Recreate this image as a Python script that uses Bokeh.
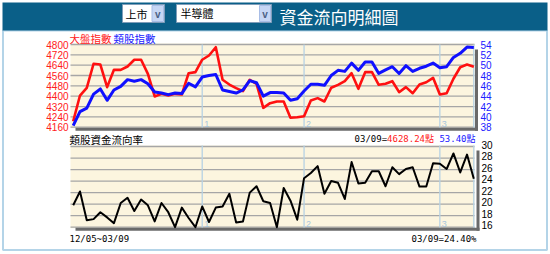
from bokeh.plotting import figure
from bokeh.models import Range1d
from bokeh.core.properties import value
from bokeh.embed import file_html
from bokeh.resources import INLINE

# ---------------- data ----------------
first_date = "12/05"
last_date = "03/09"
market = [4206, 4405, 4465, 4651, 4645, 4470, 4604, 4604, 4630, 4682,
          4682, 4573, 4398, 4418, 4405, 4418, 4413, 4578, 4586, 4682,
          4715, 4779, 4527, 4490, 4462, 4439, 4527, 4496, 4310, 4346,
          4359, 4359, 4233, 4237, 4245, 4367, 4385, 4359, 4465, 4488,
          4516, 4578, 4457, 4586, 4586, 4488, 4496, 4516, 4431, 4470,
          4423, 4490, 4508, 4542, 4413, 4423, 4535, 4624, 4645, 4628.24]
sector = [38.3, 41.0, 41.7, 44.4, 45.4, 43.2, 45.2, 45.9, 47.2, 46.9,
          47.2, 46.4, 44.8, 44.6, 44.3, 44.6, 44.5, 46.5, 45.8, 47.7,
          48.0, 48.2, 45.2, 44.9, 44.6, 45.2, 47.0, 46.6, 44.0, 44.7,
          44.7, 44.6, 43.2, 43.5, 45.0, 46.3, 46.3, 46.1, 48.0, 49.0,
          48.8, 50.4, 49.0, 50.6, 50.6, 48.4, 49.1, 49.7, 48.4, 49.9,
          48.8, 49.4, 49.8, 50.4, 49.5, 49.7, 51.5, 52.3, 53.5, 53.40]
flow = [19.8, 22.2, 17.2, 17.4, 18.6, 17.7, 16.7, 20.2, 21.1, 18.8,
        20.8, 19.8, 17.0, 20.2, 18.6, 16.0, 19.4, 17.6, 16.0, 19.6,
        16.9, 19.4, 19.6, 21.8, 16.8, 17.0, 22.0, 23.1, 20.5, 20.2,
        16.0, 22.8, 20.6, 17.3, 24.5, 25.4, 26.6, 21.8, 24.0, 23.7,
        20.9, 27.3, 23.6, 23.7, 25.7, 25.7, 23.1, 26.4, 25.2, 26.1,
        26.4, 23.05, 23.05, 27.1, 27.0, 26.1, 28.8, 25.5, 28.6, 24.40]
market_ticks = [4160, 4240, 4320, 4400, 4480, 4560, 4640, 4720, 4800]
sector_ticks = [38, 40, 42, 44, 46, 48, 50, 52, 54]
flow_ticks = [16, 18, 20, 22, 24, 26, 28, 30]
month_idx = [19, 34, 54]
month_labels = ["1", "2", "3"]

idx = list(range(len(market)))

# ---------------- layout constants (pixels) ----------------
W, H = 550, 254
X0, DX = 72.7, 6.79          # pixel of first point, spacing
PL, PR = 70, 474             # plot area left/right
UT, UB = 44, 126.7           # upper chart top/bottom
LT, LB = 146, 226.7          # lower chart top/bottom

CJK = value("Noto Sans CJK TC")
SANS = value("Liberation Sans")
MONO = value("'DejaVu Sans Mono', 'Noto Sans CJK TC'")

p = figure(width=W, height=H, x_range=Range1d(0, W), y_range=Range1d(H, 0),
           output_backend="svg", toolbar_location=None, min_border=0,
           x_axis_location=None, y_axis_location=None)
p.grid.visible = False
p.outline_line_color = None
p.background_fill_color = "white"
p.border_fill_color = "white"


def vrange(v_top, s_top, v_bot, s_bot):
    k = (v_top - v_bot) / (s_bot - s_top)
    return Range1d(start=v_top - (H - s_top) * k, end=v_top + s_top * k)


p.extra_x_ranges = {"idx": Range1d(-X0 / DX, (W - X0) / DX)}
p.extra_y_ranges = {
    "mkt": vrange(max(market_ticks), UT, min(market_ticks), UB),
    "sec": vrange(max(sector_ticks), UT, min(sector_ticks), UB),
    "flow": vrange(max(flow_ticks), LT, min(flow_ticks), LB),
}

# ---------------- frame / header ----------------
p.quad(left=2.5, right=546.5, top=30, bottom=249.5, fill_color=None,
       line_color="#b4d4e8", line_width=2)
p.quad(left=2, right=547, top=2, bottom=30, fill_color="#0a5f88", line_color=None)
# dropdowns
p.quad(left=[122, 176], right=[164, 271], top=[4, 4], bottom=[22, 22],
       fill_color="white", line_color="#7f9db9", line_width=1)
p.quad(left=[151.5, 259], right=[163, 270], top=[5, 5], bottom=[21, 21],
       fill_color="#c6d6f4", line_color="#a8bde6", line_width=1)
p.text(x=[157.2, 264.5], y=[13.5, 13.5], text=["v", "v"], text_font=SANS,
       text_font_size="10px", text_font_style="bold", text_color="#4d6185",
       text_align="center", text_baseline="middle")
p.text(x=[125, 180], y=[13, 12], text=["上市", "半導體"], text_font=CJK,
       text_font_size="11px", text_color="black", text_baseline="middle")
p.text(x=[279], y=[15.5], text=["資金流向明細圖"], text_font=CJK,
       text_font_size="17px", text_color="white", text_baseline="middle")

# ---------------- upper chart ----------------
cream = "#fcf5df"
grid = "#a6a6a6"
p.quad(left=PL, right=PR, top=UT - 1, bottom=UB + 1, fill_color=cream, line_color=None)
p.segment(x0=PL, x1=PR, y0=market_ticks, y1=market_ticks, y_range_name="mkt",
          line_color=grid, line_width=1.3)
p.segment(x0=month_idx + [idx[-1]], x1=month_idx + [idx[-1]], y0=UT, y1=UB + 1,
          x_range_name="idx", line_color="#b6d2e4", line_width=1.3)
p.text(x=month_idx, y=UB, text=month_labels, x_range_name="idx", x_offset=2,
       text_font=SANS, text_font_size="9px", text_color="#a8c6dc",
       text_baseline="bottom")
p.segment(x0=[476, 75], x1=[476, 477.5], y0=[49, 128.7], y1=[130.2, 128.7],
          line_color="#6a6a6a", line_width=3)
p.line(idx, market, x_range_name="idx", y_range_name="mkt", line_color="#ff1010",
       line_width=2.6, line_join="round")
p.line(idx, sector, x_range_name="idx", y_range_name="sec", line_color="#1010ff",
       line_width=3, line_join="round")
p.text(x=68, y=market_ticks, text=[str(t) for t in market_ticks], y_range_name="mkt",
       text_font=SANS, text_font_size="10px", text_color="#ff2020",
       text_align="right", text_baseline="middle")
p.text(x=480, y=sector_ticks, text=[str(t) for t in sector_ticks], y_range_name="sec",
       text_font=SANS, text_font_size="10px", text_color="#2020ff",
       text_align="left", text_baseline="middle")
p.text(x=[69, 113], y=[38, 38], text=["大盤指數", "類股指數"], text_font=CJK,
       text_font_size="10.5px", text_color=["#ff2020", "#2020ff"],
       text_baseline="middle")

# ---------------- lower chart ----------------
p.quad(left=PL, right=PR, top=LT - 1, bottom=LB + 1, fill_color=cream, line_color=None)
p.segment(x0=PL, x1=PR, y0=flow_ticks, y1=flow_ticks, y_range_name="flow",
          line_color=grid, line_width=1.3)
p.segment(x0=month_idx + [idx[-1]], x1=month_idx + [idx[-1]], y0=LT - 1, y1=LB + 1,
          x_range_name="idx", line_color="#b6d2e4", line_width=1.3)
p.text(x=month_idx, y=LB, text=month_labels, x_range_name="idx", x_offset=2,
       text_font=SANS, text_font_size="9px", text_color="#a8c6dc",
       text_baseline="bottom")
p.segment(x0=[477.5, 75], x1=[477.5, 479], y0=[150, 228.7], y1=[230.2, 228.7],
          line_color="#6a6a6a", line_width=3)
p.line(idx, flow, x_range_name="idx", y_range_name="flow", line_color="black",
       line_width=2, line_join="round")
p.text(x=481, y=flow_ticks, text=[str(t) for t in flow_ticks], y_range_name="flow",
       text_font=SANS, text_font_size="10px", text_color="black",
       text_align="left", text_baseline="middle", y_offset=-2)
p.text(x=[69], y=[138.5], text=["類股資金流向率"], text_font=CJK,
       text_font_size="10.5px", text_color="black", text_baseline="middle")

# header line of the lower chart: last values
fs = 9.0
cw, kw = 0.602 * fs, fs
blue_txt = "%.2f點" % sector[-1]
red_txt = "%.2f點" % market[-1]
blk_txt = "%s=" % last_date
w_blue = (len(blue_txt) - 1) * cw + kw + cw   # plus one blank cell
w_red = (len(red_txt) - 1) * cw + kw
p.text(x=[475, 475 - w_blue, 475 - w_blue - w_red], y=[138.5] * 3,
       text=[blue_txt, red_txt, blk_txt], text_font=MONO, text_font_size="9px",
       text_color=["#2020ff", "#ff2020", "black"], text_align="right",
       text_baseline="middle")
p.text(x=[69], y=[238.5], text=["%s~%s" % (first_date, last_date)], text_font=MONO,
       text_font_size="9px", text_color="black", text_baseline="middle")
p.text(x=[476], y=[238.5], text=["%s=%.2f%%" % (last_date, flow[-1])], text_font=MONO,
       text_font_size="9px", text_color="black", text_align="right",
       text_baseline="middle")

open("out.html", "w").write(file_html(p, INLINE))
